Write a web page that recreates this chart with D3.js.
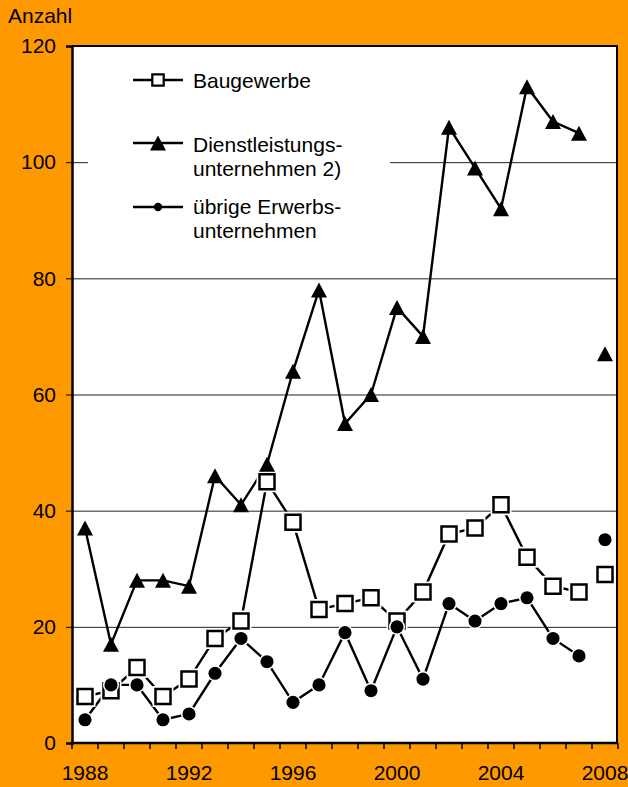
<!DOCTYPE html>
<html>
<head>
<meta charset="utf-8">
<script src="https://cdn.jsdelivr.net/npm/d3@7"></script>
<style>
  html, body { margin: 0; padding: 0; background: #FF9900; }
  svg { display: block; font-family: "Liberation Sans", Arial, sans-serif; }
</style>
</head>
<body>
<svg id="chart" width="628" height="787"></svg>
<script>
// --- Daten
const years = d3.range(1988, 2009);
const yearLabels = [1988, 1992, 1996, 2000, 2004, 2008];
const yTicks = [0, 20, 40, 60, 80, 100, 120];

const baugewerbe = [8, 9, 13, 8, 11, 18, 21, 45, 38, 23, 24, 25, 21, 26, 36, 37, 41, 32, 27, 26, 29];
const dienstleistung = [37, 17, 28, 28, 27, 46, 41, 48, 64, 78, 55, 60, 75, 70, 106, 99, 92, 113, 107, 105, 67];
const uebrige = [4, 10, 10, 4, 5, 12, 18, 14, 7, 10, 19, 9, 20, 11, 24, 21, 24, 25, 18, 15, 35];

// 2008 ist nicht mit 2007 verbunden
const connectedUntil = 2007;

// --- Layout
const svg = d3.select('#chart');
const mLeft = 72, mRight = 618, mTop = 46, mBottom = 743;
const fontSize = 21;

const x = d3.scaleBand().domain(years).range([mLeft, mRight]).padding(0);
const cx = d => x(d) + x.bandwidth() / 2;
const y = d3.scaleLinear().domain([0, 120]).range([mBottom, mTop]);

// Plotfläche
svg.append('rect')
  .attr('x', mLeft).attr('y', mTop)
  .attr('width', mRight - mLeft).attr('height', mBottom - mTop)
  .attr('fill', '#fff');

// Gitternetz
svg.append('g').selectAll('line').data(yTicks.filter(v => v > 0 && v < 120)).join('line')
  .attr('x1', mLeft).attr('x2', mRight - 1)
  .attr('y1', d => y(d) + 0.5).attr('y2', d => y(d) + 0.5)
  .attr('stroke', '#222').attr('stroke-width', 1);

// Legendenhintergrund (unterbricht das Gitternetz)
svg.append('rect')
  .attr('x', 88).attr('y', 56).attr('width', 302).attr('height', 192)
  .attr('fill', '#fff');

// Rahmen oben und rechts
svg.append('line').attr('x1', mLeft).attr('x2', mRight).attr('y1', mTop).attr('y2', mTop)
  .attr('stroke', '#000').attr('stroke-width', 2);
svg.append('line').attr('x1', mRight - 1).attr('x2', mRight - 1).attr('y1', mTop).attr('y2', mBottom)
  .attr('stroke', '#000').attr('stroke-width', 2);

// Y-Achse
const yAxis = svg.append('g')
  .attr('transform', `translate(${mLeft},0)`)
  .call(d3.axisLeft(y).tickValues(yTicks).tickSize(6).tickPadding(10));
yAxis.select('.domain').attr('stroke', '#000').attr('stroke-width', 2.5);
yAxis.selectAll('.tick line').attr('stroke', '#000').attr('stroke-width', 1);
yAxis.selectAll('.tick text').attr('font-size', fontSize).attr('fill', '#000')
  .attr('font-family', '"Liberation Sans", Arial, sans-serif');

// X-Achse
const xAxis = svg.append('g')
  .attr('transform', `translate(0,${mBottom})`)
  .call(d3.axisBottom(x).tickValues(yearLabels).tickSize(0).tickPadding(22));
xAxis.select('.domain').remove();
xAxis.selectAll('.tick text').attr('font-size', fontSize).attr('fill', '#000')
  .attr('font-family', '"Liberation Sans", Arial, sans-serif');

// Teilstriche zwischen den Jahren
const bounds = years.map(d => x(d)).concat([mRight]);
svg.append('g').selectAll('line').data(bounds).join('line')
  .attr('x1', d => d).attr('x2', d => d)
  .attr('y1', mBottom).attr('y2', mBottom + 6)
  .attr('stroke', '#000').attr('stroke-width', 1.5);
svg.append('line').attr('x1', mLeft - 1).attr('x2', mRight).attr('y1', mBottom).attr('y2', mBottom)
  .attr('stroke', '#000').attr('stroke-width', 2.5);

// Achsentitel
svg.append('text').attr('x', 8).attr('y', 23).attr('font-size', fontSize).text('Anzahl');

// --- Reihen
const line = d3.line().x(d => cx(d.year)).y(d => y(d.value));
const toRows = arr => years.map((year, i) => ({ year, value: arr[i] }));

// Dreieck 16 breit, 15 hoch, mittig um den Punkt
const triangle = (w, h) => ({
  draw(ctx) {
    ctx.moveTo(0, -h / 2);
    ctx.lineTo(w / 2, h / 2);
    ctx.lineTo(-w / 2, h / 2);
    ctx.closePath();
  }
});

const symSquare = d3.symbol().type(d3.symbolSquare).size(225);
const symTriangle = d3.symbol().type(triangle(16, 15));
const symCircle = d3.symbol().type(d3.symbolCircle).size(135);

const series = [
  { data: toRows(baugewerbe), sym: symSquare, fill: '#fff', stroke: '#000', sw: 2.5, halo: 6 },
  { data: toRows(uebrige), sym: symCircle, fill: '#000', stroke: 'none', sw: 0, halo: 3 },
  { data: toRows(dienstleistung), sym: symTriangle, fill: '#000', stroke: 'none', sw: 0, halo: 0 },
];

series.forEach(s => {
  svg.append('path')
    .datum(s.data.filter(d => d.year <= connectedUntil))
    .attr('d', line)
    .attr('fill', 'none').attr('stroke', '#000').attr('stroke-width', 2.4);
});

series.forEach(s => {
  const g = svg.append('g');
  const pos = d => `translate(${cx(d.year)},${y(d.value)})`;
  if (s.halo) {
    // weißer Rand um die Marker
    g.selectAll('path.halo').data(s.data).join('path')
      .attr('class', 'halo')
      .attr('transform', pos)
      .attr('d', s.sym)
      .attr('fill', 'none').attr('stroke', '#fff').attr('stroke-width', s.halo);
  }
  g.selectAll('path.mark').data(s.data).join('path')
    .attr('class', 'mark')
    .attr('transform', pos)
    .attr('d', s.sym)
    .attr('fill', s.fill).attr('stroke', s.stroke).attr('stroke-width', s.sw);
});

// --- Legende
const legend = [
  { y: 80, sym: d3.symbol().type(d3.symbolSquare).size(130), fill: '#fff', stroke: '#000', sw: 2.2, lines: ['Baugewerbe'], ty: 88 },
  { y: 143, sym: symTriangle, fill: '#000', stroke: 'none', sw: 0, lines: ['Dienstleistungs-', 'unternehmen 2)'], ty: 152 },
  { y: 207, sym: d3.symbol().type(d3.symbolCircle).size(55), fill: '#000', stroke: 'none', sw: 0, lines: ['übrige Erwerbs-', 'unternehmen'], ty: 214 },
];
legend.forEach(l => {
  svg.append('line').attr('x1', 133).attr('x2', 183).attr('y1', l.y).attr('y2', l.y)
    .attr('stroke', '#000').attr('stroke-width', 2.4);
  svg.append('path').attr('transform', `translate(158,${l.y})`).attr('d', l.sym)
    .attr('fill', l.fill).attr('stroke', l.stroke).attr('stroke-width', l.sw);
  const t = svg.append('text').attr('x', 193).attr('y', l.ty).attr('font-size', fontSize);
  l.lines.forEach((s, i) => t.append('tspan').attr('x', 193).attr('dy', i ? 23.5 : 0).text(s));
});
</script>
</body>
</html>
